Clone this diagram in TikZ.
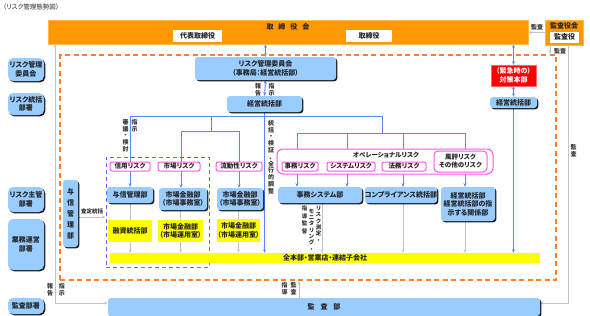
\documentclass[tikz,border=0pt]{standalone}
\usepackage{fontspec}
\setmainfont{Noto Sans CJK JP}[RawFeature=+palt]
\usetikzlibrary{arrows.meta,shadows,calc}
\definecolor{korange}{HTML}{FF9900}
\definecolor{kdash}{HTML}{FF7F2A}
\definecolor{kblue}{HTML}{99CCFF}
\definecolor{kpink}{HTML}{FF55EE}
\definecolor{kpurple}{HTML}{6666FF}
\definecolor{karrow}{HTML}{5B87FF}
\definecolor{kgray}{HTML}{C4C4C4}
\definecolor{kyellow}{HTML}{FFFF00}
\pgfdeclarelayer{bg}
\pgfsetlayers{bg,main}
\tikzset{
 txt/.style={inner sep=0pt, align=center, font=\fontsize{7}{8.5}\selectfont\bfseries, text=black!85},
 smalltxt/.style={inner sep=0pt, align=center, font=\fontsize{6}{7}\selectfont\bfseries, text=black!80},
 vtxt/.style={inner sep=0pt, align=center, font=\fontsize{6}{6.8}\selectfont\bfseries, text=black!80},
 bluebox/.style={txt, fill=kblue, rounded corners=3pt, drop shadow={shadow xshift=1.3pt,shadow yshift=-1.3pt,fill=black,opacity=0.9}},
 sidebox/.style={bluebox, rounded corners=5pt, minimum width=36pt},
 yellowbox/.style={txt, fill=kyellow},
 pinkbox/.style={txt, font=\fontsize{6.5}{8}\selectfont\bfseries, draw=kpink, line width=1pt, fill=white, rounded corners=2pt},
 orangebox/.style={fill=korange, draw=korange!70, inner sep=0pt},
 whitebox/.style={txt, fill=white},
 redbox/.style={txt, fill=red, text=white, draw=red!60},
 odash/.style={draw=kdash, line width=1.3pt, dash pattern=on 5pt off 3.5pt, inner sep=0pt},
 pdash/.style={draw=kpurple, line width=1pt, dash pattern=on 4pt off 3pt, inner sep=0pt},
 bl/.style={draw=karrow, line width=0.9pt},
 blarr/.style={bl, -{Stealth[length=3.5pt,width=3pt]}},
 blbi/.style={bl, {Stealth[length=3.5pt,width=3pt]}-{Stealth[length=3.5pt,width=3pt]}},
 gl/.style={draw=kgray, line width=0.9pt},
 glarr/.style={gl, -{Stealth[length=3.5pt,width=3pt]}},
 glbi/.style={gl, {Stealth[length=3.5pt,width=3pt]}-{Stealth[length=3.5pt,width=3pt]}},
}
\begin{document}
\begin{tikzpicture}[x=1pt,y=-1pt]
\useasboundingbox (0,0) rectangle (590,316);
% title
\node[txt, font=\fontsize{6.5}{7}\selectfont, anchor=west] (title) at (3,7) {（リスク管理態勢図）};
% board
\node[orangebox, minimum width=480pt, minimum height=24pt] (board) at (288,32) {};
\node[txt] (boardt) at (288,26.5) {取\hspace{5pt}締\hspace{5pt}役\hspace{5pt}会};
\node[whitebox, minimum width=49pt, minimum height=12pt] (daihyo) at (197.5,36) {代表取締役};
\node[whitebox, minimum width=46pt, minimum height=12pt] (tori) at (369,36) {取締役};
% auditors
\node[orangebox, minimum width=38pt, minimum height=25pt] (kyk) at (564,32.5) {};
\node[txt] (kykt) at (564,25.5) {監査役会};
\node[whitebox, minimum width=29pt, minimum height=11pt] (ky) at (564.5,37) {監査役};
% zones
\node[odash, minimum width=496pt, minimum height=225pt] (zone) at (308,167.5) {};
\node[pdash, minimum width=103pt, minimum height=110pt] (pzone) at (157.5,212) {};
% side boxes
\node[sidebox, minimum height=23pt] (s1) at (26,69.5) {リスク管理\\委員会};
\node[sidebox, minimum height=22pt] (s2) at (26,104) {リスク統括\\部署};
\node[sidebox, minimum height=25pt] (s3) at (26,199.5) {リスク主管\\部署};
\node[sidebox, minimum height=51pt] (s4) at (26,244.5) {業務運営\\部署};
\node[sidebox, minimum height=16pt] (s5) at (26,306) {監査部署};
% main boxes
\node[bluebox, minimum width=141pt, minimum height=23pt] (comm) at (265.5,68.5) {リスク管理委員会\\（事務局：経営統括部）};
\node[bluebox, minimum width=75pt, minimum height=16pt] (keieiM) at (264.5,104) {経営統括部};
\node[redbox, minimum width=45pt, minimum height=21pt] (red) at (513.5,75.5) {（緊急時の）\\対策本部};
\node[bluebox, minimum width=47pt, minimum height=11pt] (keieiR) at (513.5,102.5) {経営統括部};
% risk boxes
\node[pinkbox, minimum width=40pt, minimum height=9pt] (r1) at (130,166.5) {信用リスク};
\node[pinkbox, minimum width=42pt, minimum height=9pt] (r2) at (179,166.5) {市場リスク};
\node[pinkbox, minimum width=46pt, minimum height=9pt] (r3) at (239,166.5) {流動性リスク};
\node[pinkbox, rounded corners=6pt, minimum width=216pt, minimum height=25pt] (op) at (385,161.5) {};
\node[txt, font=\fontsize{6.5}{8}\selectfont\bfseries] (opt) at (386,155) {オペレーショナルリスク};
\node[pinkbox, minimum width=36pt, minimum height=9pt] (r4) at (300,166.5) {事務リスク};
\node[pinkbox, minimum width=48pt, minimum height=9pt] (r5) at (351,166.5) {システムリスク};
\node[pinkbox, minimum width=44pt, minimum height=9pt] (r6) at (404,166.5) {法務リスク};
\node[pinkbox, rounded corners=4pt, minimum width=53pt, minimum height=21pt] (r7) at (460.5,161.5) {風評リスク\\その他のリスク};
% departments
\node[bluebox, minimum width=46pt, minimum height=16pt] (yoshin) at (130,195) {与信管理部};
\node[bluebox, minimum width=48pt, minimum height=22pt] (shijo1) at (183,199) {市場金融部\\（市場事務室）};
\node[bluebox, minimum width=46pt, minimum height=22pt] (shijo2) at (240,199) {市場金融部\\（市場事務室）};
\node[bluebox, minimum width=84pt, minimum height=16pt] (jimusys) at (320,195) {事務システム部};
\node[bluebox, minimum width=72pt, minimum height=16pt] (compl) at (401,195) {コンプライアンス統括部};
\node[bluebox, minimum width=54pt, minimum height=34pt] (keiei3) at (468,204) {経営統括部\\経営統括部の指\\示する関係部};
\node[yellowbox, minimum width=44pt, minimum height=22pt] (yushi) at (130,231) {融資統括部};
\node[yellowbox, minimum width=45pt, minimum height=22pt] (shijo3) at (180.5,231) {市場金融部\\（市場運用室）};
\node[yellowbox, minimum width=43pt, minimum height=23pt] (shijo4) at (238.5,230.5) {市場金融部\\（市場運用室）};
\node[yellowbox, minimum width=430pt, minimum height=10pt] (bar) at (325,258) {全本部・営業店・連結子会社};
\node[bluebox, minimum width=15pt, minimum height=67pt, font=\fontsize{7}{11}\selectfont\bfseries] (vtall) at (70.5,213.5) {与\\信\\管\\理\\部};
\node[bluebox, minimum width=432pt, minimum height=18pt] (kansabu) at (324,307) {監\hspace{6pt}査\hspace{6pt}部};
% labels
\node[smalltxt] (lb1) at (537,27) {監査};
\node[smalltxt] (lb2) at (560,51) {監査};
\node[vtxt] (lb3) at (573.5,151) {監\\査};
\node[vtxt] (lb4) at (258,89.5) {報\\告};
\node[vtxt] (lb5) at (271.5,89.5) {指\\示};
\node[vtxt, anchor=north] (lb6) at (125.5,119) {審\\議\\・\\検\\討};
\node[vtxt, anchor=north] (lb7) at (134.5,119) {指\\示};
\node[vtxt, anchor=north] (lb8) at (271,120) {統\\括\\・\\検\\証\\、\\全\\行\\的\\調\\整};
\node[smalltxt, font=\fontsize{5.5}{6}\selectfont\bfseries] (lb9) at (92,211.5) {査定統括};
\node[vtxt, font=\fontsize{5.5}{6.3}\selectfont\bfseries, anchor=north] (lb10) at (318.5,206) {リ\\ス\\ク\\測\\定\\・};
\node[vtxt, font=\fontsize{5.5}{6.3}\selectfont\bfseries, anchor=north] (lb11) at (311.5,209) {モ\\ニ\\タ\\リ\\ン\\グ\\・};
\node[vtxt, font=\fontsize{5.5}{7.5}\selectfont\bfseries, anchor=north] (lb12) at (304.5,206) {指\\導\\監\\督};
\node[vtxt] (lb13) at (50,290) {報\\告};
\node[vtxt] (lb14) at (62,290) {指\\示};
\node[vtxt] (lb15) at (284.5,289) {指\\導};
\node[vtxt] (lb16) at (293.5,289) {監\\査};
% coordinates
\coordinate (kc1) at (550,54);
\coordinate (rl) at (568,0);
\coordinate (ll) at (55,0);
\coordinate (ka) at (299,281);
\coordinate (h1L) at (130,116);
\coordinate (h1R) at (382,116);
\coordinate (m1) at (211,116);
\coordinate (m2) at (181,131);
\coordinate (m3) at (239,131);
\coordinate (o1) at (297,133);
\coordinate (o2) at (347,133);
\coordinate (o3) at (403,133);
\coordinate (o4) at (465,133);
\begin{pgfonlayer}{bg}
% gray
\draw[glarr] (kyk.west) -- (kyk.west -| board.east);
\draw[glarr] (kyk.south -| kc1) -- (kc1);
\draw[glarr] (kyk.south -| rl) |- ([yshift=4pt]kansabu.east);
\draw[glbi] (board.south -| ll) |- ([yshift=4pt]kansabu.west);
\draw[glarr] (kansabu.north -| ka) -- (ka);
\draw[glarr] ([yshift=-3.5pt]vtall.east) -- ([yshift=-3.5pt]vtall.east -| pzone.west);
\draw[gl] (yoshin.south) -- (yushi.north);
\draw[glarr] (yushi.south) -- (yushi.south |- bar.north);
\draw[gl] (shijo1.south -| shijo3) -- (shijo3.north);
\draw[glarr] (shijo3.south) -- (shijo3.south |- bar.north);
\draw[gl] (shijo2.south -| shijo4) -- (shijo4.north);
\draw[glarr] (shijo4.south) -- (shijo4.south |- bar.north);
\draw[glarr] ([xshift=2pt]jimusys.south) -- ([xshift=2pt]jimusys.south |- bar.north);
\draw[glarr] (compl.south -| o3) -- (bar.north -| o3);
\draw[glarr] (keiei3.south -| o4) -- (bar.north -| o4);
% blue
\draw[blbi] (comm.north |- board.south) -- (comm.north);
\draw[blbi] (comm.south) -- (keieiM.north);
\draw[blbi] (red.north |- board.south) -- (red.north);
\draw[blbi] (red.south) -- (keieiR.north);
\draw[blarr] (keieiR.south) -- (keieiR.south |- bar.north);
\draw[blarr] (keieiM.south) -- (keieiM.south |- bar.north);
\draw[bl] (h1L) -- (h1R);
\draw[blarr] (h1L) -- (yoshin.north);
\draw[bl] (m1) -- (m1 |- m2);
\draw[bl] (m2) -- (m3);
\draw[blarr] (m2) -- (m2 |- shijo1.north);
\draw[blarr] (m3) -- (m3 |- shijo2.north);
\draw[bl] (h1R) -- (h1R |- o1);
\draw[bl] (o1) -- (o4);
\draw[blarr] (o1) -- (o1 |- jimusys.north);
\draw[blarr] (o2) -- (o2 |- jimusys.north);
\draw[blarr] (o3) -- (o3 |- compl.north);
\draw[blarr] (o4) -- (o4 |- keiei3.north);
\end{pgfonlayer}
\end{tikzpicture}
\end{document}
